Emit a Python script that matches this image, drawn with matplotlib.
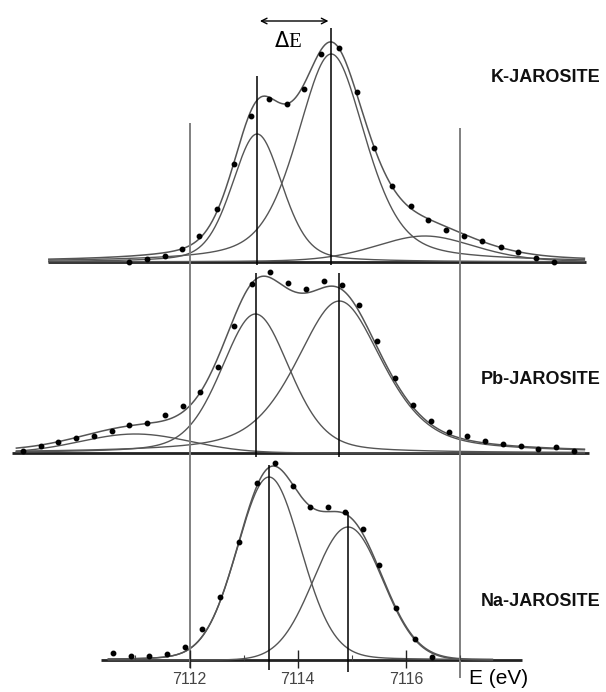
import numpy as np
import matplotlib.pyplot as plt

# fitted pre-edge components: centre (eV), height, fwhm (eV), lorentz fraction
k_centers = [7113.25, 7114.62, 7116.35]
k_heights = [0.128, 0.208, 0.026]
k_fwhm = [1.1, 1.5, 2.2]
k_eta = [0.3, 0.45, 0.3]

pb_centers = [7113.22, 7114.77, 7111.0]
pb_heights = [0.139, 0.152, 0.019]
pb_fwhm = [1.5, 1.9, 2.4]
pb_eta = [0.3, 0.5, 0.0]

na_centers = [7113.47, 7114.93]
na_heights = [0.183, 0.133]
na_fwhm = [1.4, 1.5]
na_eta = [0.1, 0.0]

# measured points
k_e = [7110.89, 7111.21, 7111.55, 7111.86, 7112.18, 7112.51, 7112.83, 7113.14,
       7113.47, 7113.80, 7114.11, 7114.43, 7114.76, 7115.09, 7115.41, 7115.75,
       7116.09, 7116.41, 7116.75, 7117.07, 7117.41, 7117.75, 7118.07, 7118.40, 7118.74]
k_mu = [0.000, 0.003, 0.006, 0.013, 0.026, 0.053, 0.098, 0.146,
        0.163, 0.158, 0.173, 0.208, 0.214, 0.170, 0.114, 0.076,
        0.056, 0.042, 0.032, 0.026, 0.021, 0.015, 0.010, 0.004, 0.000]

pb_e = [7108.93, 7109.25, 7109.57, 7109.90, 7110.24, 7110.57, 7110.89, 7111.22,
        7111.55, 7111.88, 7112.19, 7112.52, 7112.83, 7113.16, 7113.48, 7113.82,
        7114.16, 7114.48, 7114.81, 7115.14, 7115.46, 7115.79, 7116.13, 7116.46,
        7116.80, 7117.13, 7117.46, 7117.80, 7118.13, 7118.44, 7118.77, 7119.11]
pb_mu = [0.002, 0.007, 0.011, 0.015, 0.017, 0.022, 0.028, 0.030,
         0.038, 0.047, 0.061, 0.086, 0.127, 0.169, 0.181, 0.170,
         0.164, 0.172, 0.168, 0.148, 0.112, 0.075, 0.048, 0.032,
         0.021, 0.017, 0.012, 0.009, 0.007, 0.004, 0.006, 0.002]

na_e = [7110.59, 7110.91, 7111.25, 7111.58, 7111.91, 7112.23, 7112.57, 7112.91,
        7113.25, 7113.58, 7113.91, 7114.23, 7114.56, 7114.88, 7115.20, 7115.51,
        7115.82, 7116.16, 7116.49]
na_mu = [0.007, 0.004, 0.004, 0.006, 0.013, 0.031, 0.063, 0.118,
         0.177, 0.197, 0.174, 0.153, 0.153, 0.148, 0.131, 0.095,
         0.052, 0.021, 0.003]

tick_values = [7112, 7114, 7116]
minor_ticks = [7111, 7113, 7115, 7117]
window = [7112, 7117]
names = ['K-JAROSITE', 'Pb-JAROSITE', 'Na-JAROSITE']


def pvoigt(e, c, h, w, eta):
    x = (e - c) / w
    g = np.exp(-4 * np.log(2) * x ** 2)
    l = 1.0 / (1 + 4 * x ** 2)
    return h * (eta * l + (1 - eta) * g)


fig = plt.figure(figsize=(6.06, 6.92), dpi=100)
ax = fig.add_axes([0, 0, 1, 1])
ax.set_xlim(7108.497, 7119.699)
ax.set_ylim(0, 0.692)
ax.axis('off')

curve_col = '#555555'
panels = [
    (k_centers, k_heights, k_fwhm, k_eta, k_e, k_mu, 0.430, (7109.38, 7119.33), (7109.4, 7119.3)),
    (pb_centers, pb_heights, pb_fwhm, pb_eta, pb_e, pb_mu, 0.239, (7108.72, 7119.38), (7108.8, 7119.3)),
    (na_centers, na_heights, na_fwhm, na_eta, na_e, na_mu, 0.032, (7110.36, 7118.15), (7110.5, 7117.6)),
]

for cen, hh, ww, et, pe, pm, off, base_rng, crv_rng in panels:
    ax.plot(base_rng, [off, off], color='#222222', lw=2.0, solid_capstyle='butt')
    e = np.linspace(crv_rng[0], crv_rng[1], 600)
    total = np.zeros_like(e)
    for c, h, w, eta in zip(cen, hh, ww, et):
        comp = pvoigt(e, c, h, w, eta)
        total += comp
        ax.plot(e, comp + off, color=curve_col, lw=1.0)
    ax.plot(e, total + off, color=curve_col, lw=1.1)
    ax.plot(pe, np.array(pm) + off, 'o', color='black', markersize=3.2)

# centroid markers
ax.vlines(k_centers[0], 0.427, 0.616, color='black', lw=1.1)
ax.vlines(k_centers[1], 0.427, 0.664, color='black', lw=1.1)
ax.vlines(pb_centers[:2], 0.235, 0.419, color='black', lw=1.1)
ax.vlines(na_centers[0], 0.022, 0.227, color='black', lw=1.1)
ax.vlines(na_centers[1], 0.020, 0.180, color='black', lw=1.1)

# integration window
ax.vlines(window[0], 0.024, 0.569, color='#808080', lw=1.4)
ax.vlines(window[1], 0.014, 0.564, color='#808080', lw=1.4)

# energy axis on the bottom spectrum
ax.vlines(tick_values, 0.024, 0.042, color='#222222', lw=1.0)
ax.vlines(minor_ticks, 0.032, 0.037, color='#444444', lw=0.8)
for t in tick_values:
    ax.text(t, 0.012, str(t), ha='center', va='center', fontsize=11.5,
            color='#444444', family='Liberation Sans')
ax.text(7117.72, 0.014, 'E (eV)', ha='center', va='center', fontsize=15,
        family='Liberation Sans')

# delta E arrow
ax.annotate('', xy=(k_centers[0], 0.671), xytext=(k_centers[1], 0.671),
            arrowprops=dict(arrowstyle='<->', color='black', lw=1.0))
ax.text(7113.82, 0.650, r'$\Delta$E', ha='center', va='center', fontsize=15,
        family='Liberation Serif')

for name, y in zip(names, [0.614, 0.312, 0.090]):
    ax.text(7119.60, y, name, ha='right', va='center', fontsize=13,
            fontweight='bold', family='Liberation Sans', color='#111111')

fig.savefig('out.png', dpi=100)
